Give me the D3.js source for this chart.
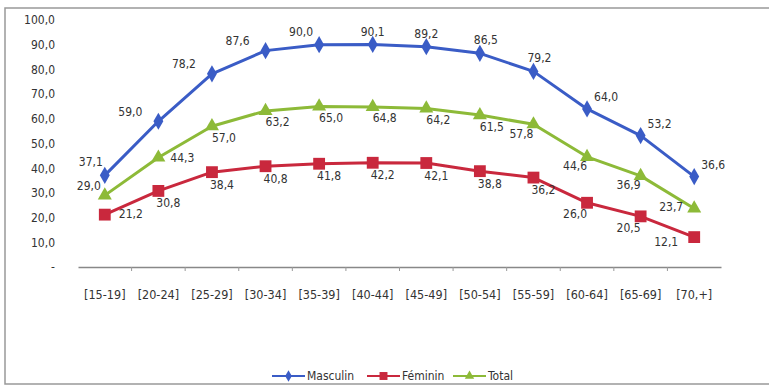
<!DOCTYPE html>
<html>
<head>
<meta charset="utf-8">
<script src="https://cdn.jsdelivr.net/npm/d3@7"></script>
<style>
  html, body { margin: 0; padding: 0; background: #fff; }
  svg { display: block; }
  text { font-family: "DejaVu Sans Condensed", "Liberation Sans Narrow", sans-serif; fill: #333; }
</style>
</head>
<body>
<svg id="chart" width="769" height="386"></svg>
<script>
// Age groups
const categories = ["[15-19]", "[20-24]", "[25-29]", "[30-34]", "[35-39]", "[40-44]",
                    "[45-49]", "[50-54]", "[55-59]", "[60-64]", "[65-69]", "[70,+]"];
// Rates by sex (%)
const masculin = [37.1, 59.0, 78.2, 87.6, 90.0, 90.1, 89.2, 86.5, 79.2, 64.0, 53.2, 36.6];
const feminin  = [21.2, 30.8, 38.4, 40.8, 41.8, 42.2, 42.1, 38.8, 36.2, 26.0, 20.5, 12.1];
const total    = [29.0, 44.3, 57.0, 63.2, 65.0, 64.8, 64.2, 61.5, 57.8, 44.6, 36.9, 23.7];
// Y axis ticks
const yTicks = [0, 10, 20, 30, 40, 50, 60, 70, 80, 90, 100];
const seriesNames = ["Masculin", "Féminin", "Total"];

const fmt = v => v === 0 ? "-" : v.toFixed(1).replace(".", ",");

const svg = d3.select("#chart");

// outer frame
svg.append("rect")
  .attr("x", 5).attr("y", 8).attr("width", 800).attr("height", 376)
  .attr("fill", "none").attr("stroke", "#999").attr("stroke-width", 1.5);

const x = d3.scaleBand().domain(categories).range([78, 721]);
const y = d3.scaleLinear().domain([0, 100]).range([267, 20]);
const cx = c => x(c) + x.bandwidth() / 2;

// Y axis labels
const yAxis = d3.axisLeft(y).tickValues(yTicks).tickFormat(fmt).tickSize(0).tickPadding(0);
const yg = svg.append("g").attr("transform", "translate(55,0)").call(yAxis);
yg.select(".domain").remove();
yg.selectAll("text").style("font-size", "12px").style("font-family", null).attr("fill", "#333");

// X axis
const xAxis = d3.axisBottom(x).tickSize(0).tickPadding(23);
const xg = svg.append("g").attr("transform", "translate(0,267)").call(xAxis);
xg.select(".domain").attr("stroke", "#888").attr("stroke-width", 1.5);
xg.selectAll("text").style("font-size", "12.5px").style("font-family", null).attr("fill", "#333");
// boundary ticks between categories
xg.selectAll(".bnd").data(categories.slice(1)).enter().append("line")
  .attr("x1", c => x(c)).attr("x2", c => x(c))
  .attr("y1", 0).attr("y2", 4).attr("stroke", "#999").attr("stroke-width", 1);

const series = [
  { name: seriesNames[0], values: masculin, color: "#3A5CC6", shape: d3.symbolDiamond, size: 85,
    place: i => i === 0 ? [-14, -13] : i < 4 ? [-28, -9] : i === 4 ? [-18, -12] : i < 7 ? [0, -12] : i < 9 ? [6, -13] : [19, -11] },
  { name: seriesNames[1], values: feminin, color: "#C9283D", shape: d3.symbolSquare, size: 140,
    place: i => i === 0 ? [26, 0] : i < 9 ? [10, 13] : i < 11 ? [-12, 12] : [-28, 5] },
  { name: seriesNames[2], values: total, color: "#8DBA38", shape: d3.symbolTriangle, size: 85,
    place: i => i === 0 ? [-16, -9] : i === 1 ? [24, 1] : i < 8 ? [12, 12] : i < 11 ? [-12, 10] : [-23, -1] }
];

const line = d3.line().x((d, i) => cx(categories[i])).y(d => y(d));

series.forEach(s => {
  const g = svg.append("g");
  g.append("path").datum(s.values)
    .attr("d", line).attr("fill", "none")
    .attr("stroke", s.color).attr("stroke-width", 3).attr("stroke-linejoin", "round");
  g.selectAll("path.m").data(s.values).enter().append("path").attr("class", "m")
    .attr("d", d3.symbol().type(s.shape).size(s.size))
    .attr("transform", (d, i) => `translate(${cx(categories[i])},${y(d)})`)
    .attr("fill", s.color);
  g.selectAll("text").data(s.values).enter().append("text")
    .attr("x", (d, i) => cx(categories[i]) + s.place(i)[0])
    .attr("y", (d, i) => y(d) + s.place(i)[1])
    .attr("text-anchor", "middle").attr("dominant-baseline", "middle")
    .style("font-size", "12px")
    .text(fmt);
});

// Legend
const legendX = [272, 367, 453];
const leg = svg.append("g");
series.forEach((s, k) => {
  const lx = legendX[k], ly = 376;
  leg.append("line").attr("x1", lx).attr("x2", lx + 33).attr("y1", ly).attr("y2", ly)
    .attr("stroke", s.color).attr("stroke-width", 2);
  leg.append("path").attr("d", d3.symbol().type(s.shape).size(s.size * 0.45))
    .attr("transform", `translate(${lx + 16.5},${ly})`).attr("fill", s.color);
  leg.append("text").attr("x", lx + 35).attr("y", ly).attr("dominant-baseline", "middle")
    .style("font-size", "12px").text(s.name);
});
</script>
</body>
</html>
